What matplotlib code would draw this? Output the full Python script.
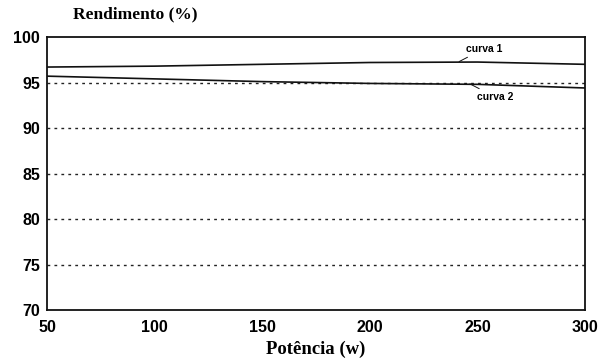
import matplotlib
matplotlib.use("Agg")
import matplotlib.pyplot as plt

potencia = [50, 100, 150, 200, 250, 300]
curva1 = [96.7, 96.8, 97.0, 97.2, 97.25, 97.0]
curva2 = [95.7, 95.4, 95.1, 94.9, 94.8, 94.4]
xticks = [50, 100, 150, 200, 250, 300]
yticks = [70, 75, 80, 85, 90, 95, 100]
grid_levels = [75, 80, 85, 90, 95]

fig = plt.figure(figsize=(6.07, 3.58), dpi=100)
ax = fig.add_axes([0.0774, 0.134, 0.8864, 0.7626])

for g in grid_levels:
    ax.axhline(g, color="#222222", lw=1.0, ls=(0, (2, 3)), zorder=1)

ax.plot(potencia, curva1, color="#111111", lw=1.2, zorder=3)
ax.plot(potencia, curva2, color="#111111", lw=1.2, zorder=3)

ax.set_xlim(50, 300)
ax.set_ylim(70, 100)
ax.set_xticks(xticks)
ax.set_yticks(yticks)
ax.tick_params(length=0, labelsize=11.5)
ax.tick_params(axis="x", pad=7)
ax.tick_params(axis="y", pad=5)
for lab in ax.get_xticklabels() + ax.get_yticklabels():
    lab.set_family("Liberation Sans")
    lab.set_fontweight("bold")
for s in ax.spines.values():
    s.set_linewidth(1.3)
    s.set_color("#111111")

ax.annotate("curva 1", xy=(241.5, 97.3), xytext=(244.5, 98.7), fontsize=7.5,
            family="Liberation Sans", fontweight="bold", va="center", ha="left",
            arrowprops=dict(arrowstyle="-", lw=0.7, color="#111111",
                            shrinkA=1, shrinkB=0))
ax.annotate("curva 2", xy=(246.5, 94.85), xytext=(250, 93.4), fontsize=7.5,
            family="Liberation Sans", fontweight="bold", va="center", ha="left",
            arrowprops=dict(arrowstyle="-", lw=0.7, color="#111111",
                            shrinkA=1, shrinkB=0))

fig.text(0.12, 0.96, "Rendimento (%)", family="Liberation Serif",
         fontweight="bold", fontsize=12.5, va="center", ha="left")
fig.text(0.52, 0.025, "Potência (w)", family="Liberation Serif",
         fontweight="bold", fontsize=13.5, va="center", ha="center")

fig.savefig("out.png", dpi=100)
